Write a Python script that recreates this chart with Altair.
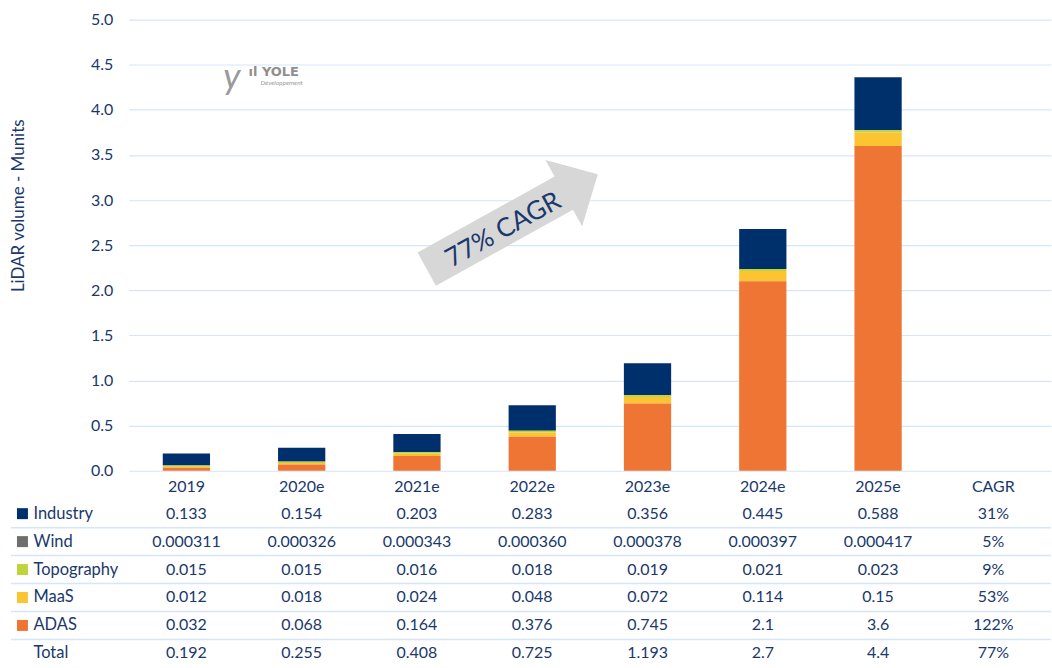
import altair as alt
import pandas as pd

# ---------------- data ----------------
years = ["2019", "2020e", "2021e", "2022e", "2023e", "2024e", "2025e"]
columns = years + ["CAGR"]
segments = ["Industry", "Wind", "Topography", "MaaS", "ADAS"]
rows = segments + ["Total"]

industry = [0.133, 0.154, 0.203, 0.283, 0.356, 0.445, 0.588]
wind = [0.000311, 0.000326, 0.000343, 0.000360, 0.000378, 0.000397, 0.000417]
topography = [0.015, 0.015, 0.016, 0.018, 0.019, 0.021, 0.023]
maas = [0.012, 0.018, 0.024, 0.048, 0.072, 0.114, 0.15]
adas = [0.032, 0.068, 0.164, 0.376, 0.745, 2.1, 3.6]
total = [0.192, 0.255, 0.408, 0.725, 1.193, 2.7, 4.4]
cagr = ["31%", "5%", "9%", "53%", "122%", "77%"]

y_ticks = [0, 0.5, 1.0, 1.5, 2.0, 2.5, 3.0, 3.5, 4.0, 4.5, 5.0]

arrow_anchor = {"col": "2022e", "value": 2.76}
arrow_text = {"col": "2022e", "value": 2.67, "label": "77% CAGR"}
logo_anchor = {"col": "2020e", "value": 4.40}

# ---------------- styles ----------------
NAVY_TXT = "#1a386c"
GRID = "#d5e5fa"
FONT = "Lato"
colors = ["#00306b", "#6e6e6e", "#bdd53a", "#fdc431", "#ee7533"]
W = 924
ROW_H = 28
color_scale = alt.Scale(domain=segments, range=colors)

series = {"Industry": industry, "Wind": wind, "Topography": topography,
          "MaaS": maas, "ADAS": adas}
stack_order = {"ADAS": 0, "MaaS": 1, "Topography": 2, "Wind": 3, "Industry": 4}

bar_rows = []
for s in segments:
    for y, v in zip(years, series[s]):
        bar_rows.append({"col": y, "segment": s, "value": v, "ord": stack_order[s]})
bars_df = pd.DataFrame(bar_rows)

x_scale = alt.Scale(domain=columns, paddingInner=0.59, paddingOuter=0.295)

bars = alt.Chart(bars_df).mark_bar().encode(
    x=alt.X("col:N", scale=x_scale,
            axis=alt.Axis(title=None, labelAngle=0, labelFontSize=16, labelColor=NAVY_TXT,
                          labelFont=FONT, domain=False, ticks=False, tickSize=0,
                          labelPadding=8, grid=False)),
    y=alt.Y("value:Q", stack="zero", scale=alt.Scale(domain=[0, 5], nice=False),
            axis=alt.Axis(values=y_ticks, format=".1f", grid=True, gridColor=GRID,
                          gridWidth=1.2, domain=False, ticks=False, tickSize=0,
                          labelPadding=16, labelFontSize=16, labelColor=NAVY_TXT,
                          labelFont=FONT, title="LiDAR volume - Munits",
                          titleFontSize=17, titleFontWeight="normal", titleColor=NAVY_TXT,
                          titleFont=FONT, titleX=-101, titleY=186)),
    color=alt.Color("segment:N", scale=color_scale, legend=None),
    order=alt.Order("ord:Q", sort="ascending"),
)

arrow_path = ("M-0.98,-0.19 L0.59,-0.19 L0.59,-0.38 L0.98,0 L0.59,0.38 "
              "L0.59,0.19 L-0.98,0.19 Z")
arrow = alt.Chart(pd.DataFrame([arrow_anchor])).mark_point(
    shape=arrow_path, size=40000, angle=331, filled=True, fill="#d7d7d7",
    opacity=1, strokeWidth=0, xOffset=-20
).encode(x=alt.X("col:N", scale=x_scale), y="value:Q")

arrow_lbl = alt.Chart(pd.DataFrame([arrow_text])).mark_text(
    angle=331, fontSize=26, color=NAVY_TXT, font=FONT, xOffset=-29
).encode(x=alt.X("col:N", scale=x_scale), y="value:Q", text="label:N")

logo_df = pd.DataFrame([logo_anchor])
logo_y = alt.Chart(logo_df).mark_text(
    text="y", fontSize=36, fontStyle="italic", color="#9a9a9a", font=FONT,
    xOffset=-70, yOffset=4
).encode(x=alt.X("col:N", scale=x_scale), y="value:Q")
logo_main = alt.Chart(logo_df).mark_text(
    text="ıl YOLE", fontSize=13, fontWeight="bold", color="#8f8f8f", font="DejaVu Sans",
    xOffset=-28, yOffset=-2
).encode(x=alt.X("col:N", scale=x_scale), y="value:Q")
logo_sub = alt.Chart(logo_df).mark_text(
    text="Développement", fontSize=6.5, fontStyle="italic", color="#9a9a9a", font=FONT,
    xOffset=-20, yOffset=9
).encode(x=alt.X("col:N", scale=x_scale), y="value:Q")

top = alt.layer(bars, arrow, arrow_lbl, logo_y, logo_main, logo_sub).properties(
    width=W, height=452)

# ---------------- table ----------------
def fmt(s, v):
    return f"{v:.6f}" if s == "Wind" else str(v)

tab_rows = []
for s in segments:
    for y, v in zip(years, series[s]):
        tab_rows.append({"col": y, "row": s, "txt": fmt(s, v)})
for y, v in zip(years, total):
    tab_rows.append({"col": y, "row": "Total", "txt": str(v)})
for r, c in zip(rows, cagr):
    tab_rows.append({"col": "CAGR", "row": r, "txt": c})
tab_df = pd.DataFrame(tab_rows)

y_rows = alt.Scale(domain=rows, paddingInner=0, paddingOuter=0)

cells = alt.Chart(tab_df).mark_text(fontSize=16, color=NAVY_TXT, font=FONT).encode(
    x=alt.X("col:N", scale=x_scale, axis=None),
    y=alt.Y("row:N", scale=y_rows,
            axis=alt.Axis(title=None, labelAlign="left", labelPadding=96, tickSize=0,
                          ticks=False, domain=False, grid=False, labelFontSize=16.5,
                          labelColor=NAVY_TXT, labelFont=FONT)),
    text="txt:N",
)

sep_df = pd.DataFrame({"row": rows[1:]})
seps = alt.Chart(sep_df).mark_rule(color=GRID, strokeWidth=1.5).encode(
    y=alt.Y("row:N", scale=y_rows, bandPosition=0),
    x=alt.value(-118), x2=alt.value(W),
)

sq_df = pd.DataFrame({"row": segments})
squares = alt.Chart(sq_df).mark_square(size=121, opacity=1, filled=True).encode(
    y=alt.Y("row:N", scale=y_rows),
    x=alt.value(-106.5),
    color=alt.Color("row:N", scale=color_scale, legend=None),
)

bottom = alt.layer(seps, cells, squares).properties(width=W, height=ROW_H * 6)

chart = alt.vconcat(top, bottom, spacing=5).properties(
    padding={"left": 10, "top": 11, "right": 0, "bottom": 0}
).configure(background="white").configure_view(stroke=None, strokeWidth=0)

chart.save("out.html", embed_options={"renderer": "svg", "actions": False})
